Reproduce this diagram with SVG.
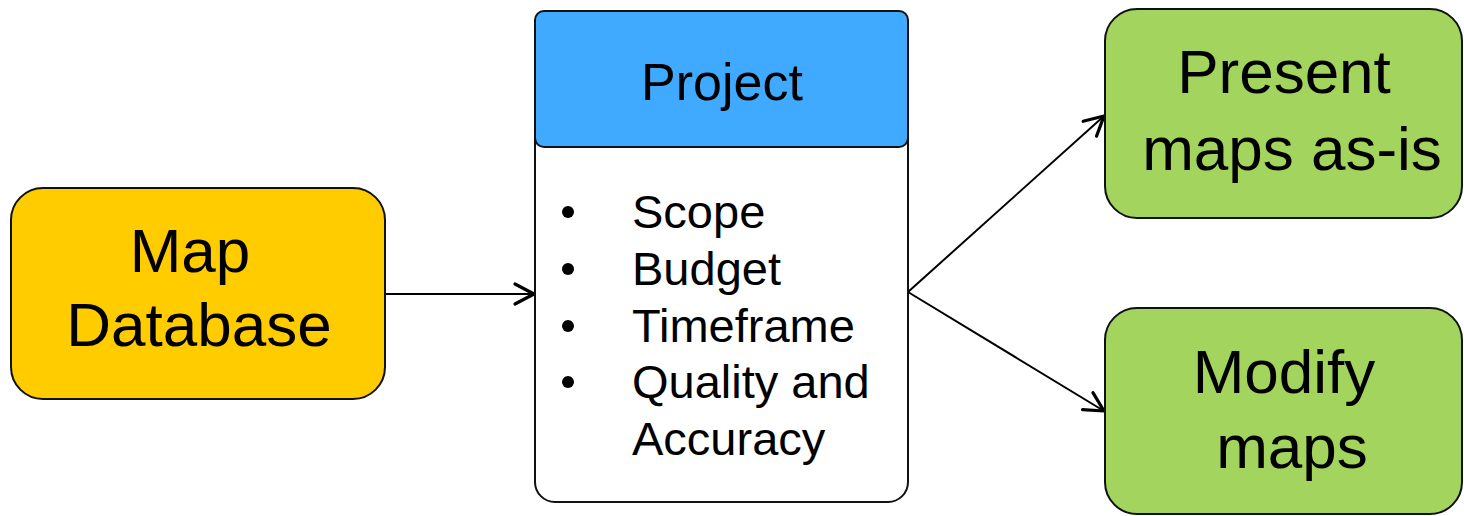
<svg xmlns="http://www.w3.org/2000/svg" width="1464" height="516" viewBox="0 0 1464 516">
  <style>
    .box { stroke: #111; stroke-width: 2; }
    .lbl { font-family: "Liberation Sans", Arial, sans-serif; fill: #000; }
    .big { font-size: 62px; text-anchor: middle; }
    .head { font-size: 52px; text-anchor: middle; }
    .item { font-size: 47px; }
    .edge { fill: none; stroke: #000; stroke-width: 2; marker-end: url(#arrow); }
  </style>
  <defs>
    <marker id="arrow" markerUnits="userSpaceOnUse" markerWidth="26" markerHeight="26" viewBox="0 0 26 26" refX="23" refY="13" orient="auto">
      <path d="M4,3 L23,13 L4,23" fill="none" stroke="#000" stroke-width="3.2" stroke-linecap="round" stroke-linejoin="round"/>
    </marker>
  </defs>
  <rect width="1464" height="516" fill="#fff"/>

  <g id="connectors">
    <line class="edge" x1="386" y1="294" x2="534" y2="294"/>
    <line class="edge" x1="908" y1="292" x2="1104" y2="116"/>
    <line class="edge" x1="908" y1="292" x2="1104" y2="411"/>
  </g>

  <g id="map-database">
    <rect class="box" x="11" y="188" width="374" height="211" rx="32" fill="#FFCC00"/>
    <text class="lbl big" x="190" y="272">Map</text>
    <text class="lbl big" x="199" y="346">Database</text>
  </g>

  <g id="project">
    <rect class="box" x="535" y="11" width="373" height="491" rx="20" fill="#fff"/>
    <rect class="box" x="535" y="11" width="373" height="136" rx="9" fill="#3FAAFF"/>
    <text class="lbl head" x="722" y="100">Project</text>
    <g fill="#000">
      <circle cx="568" cy="212" r="6"/>
      <circle cx="568" cy="269" r="6"/>
      <circle cx="568" cy="326" r="6"/>
      <circle cx="568" cy="382" r="6"/>
    </g>
    <text class="lbl item" x="632" y="228">Scope</text>
    <text class="lbl item" x="632" y="285">Budget</text>
    <text class="lbl item" x="632" y="342">Timeframe</text>
    <text class="lbl item" x="632" y="398">Quality and</text>
    <text class="lbl item" x="632" y="455">Accuracy</text>
  </g>

  <g id="present-maps">
    <rect class="box" x="1105" y="9" width="357" height="209" rx="32" fill="#A2D45E"/>
    <text class="lbl big" x="1284" y="93">Present</text>
    <text class="lbl big" x="1292" y="170">maps as-is</text>
  </g>

  <g id="modify-maps">
    <rect class="box" x="1105" y="308" width="357" height="206" rx="32" fill="#A2D45E"/>
    <text class="lbl big" x="1284" y="393">Modify</text>
    <text class="lbl big" x="1292" y="468">maps</text>
  </g>
</svg>
